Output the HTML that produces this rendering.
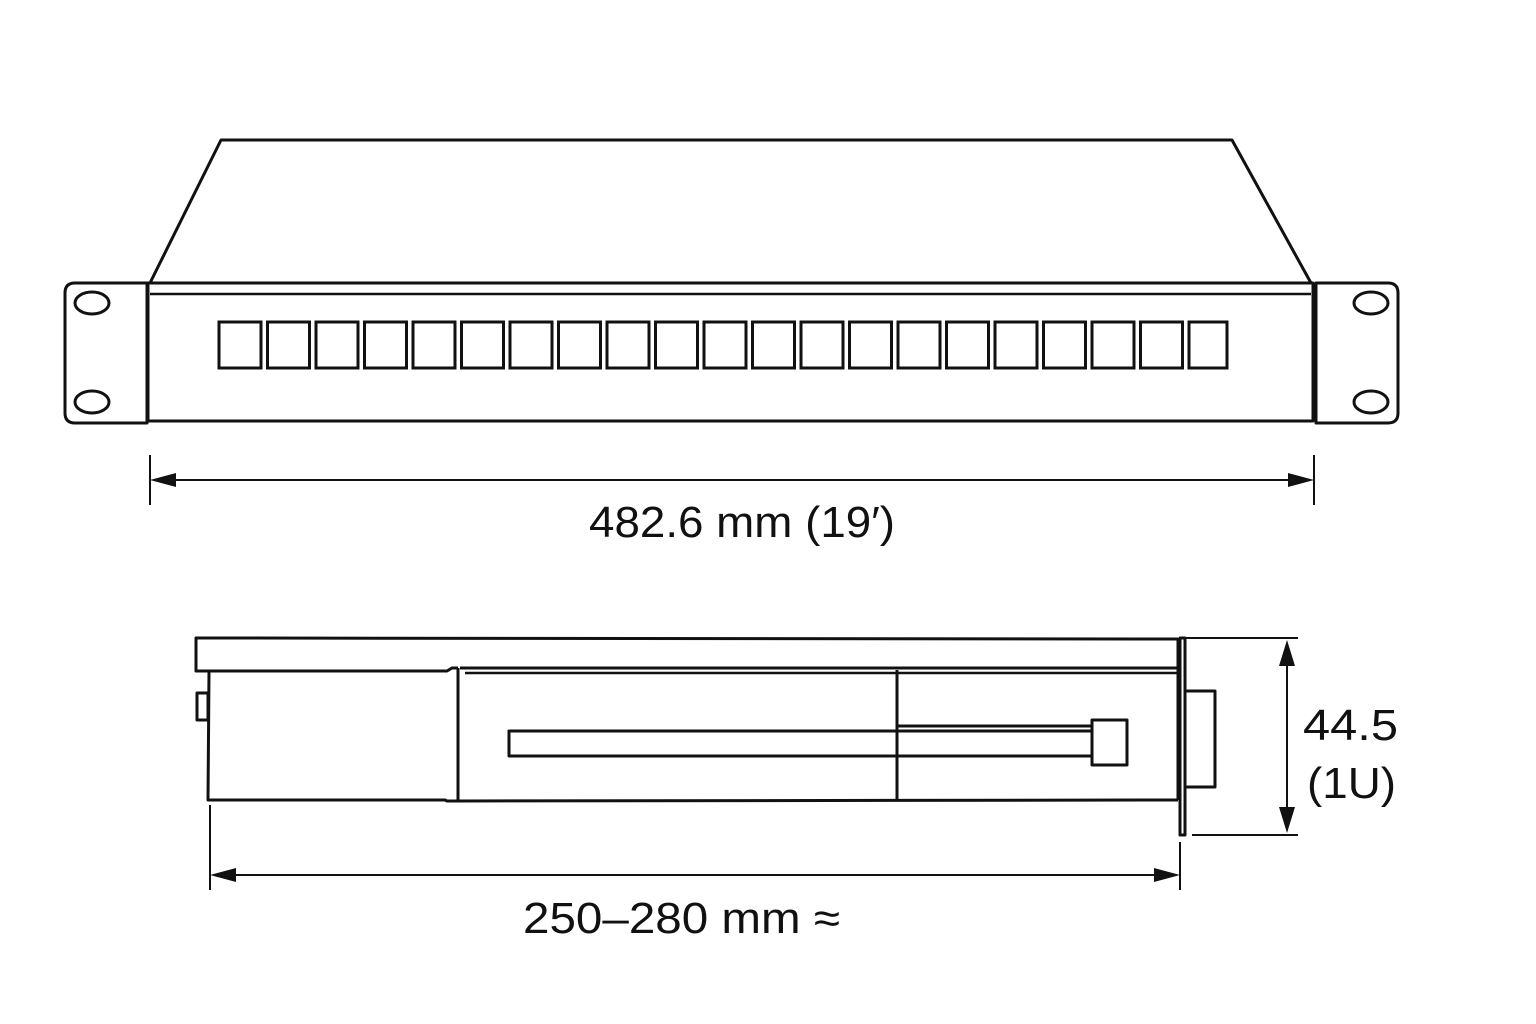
<!DOCTYPE html>
<html><head><meta charset="utf-8"><style>html,body{margin:0;padding:0;background:#fff}svg{display:block}</style></head>
<body>
<svg width="1536" height="1024" viewBox="0 0 1536 1024" xmlns="http://www.w3.org/2000/svg" font-family="Liberation Sans, Arial, sans-serif">
<g fill="none" stroke="#111" stroke-width="3" stroke-linejoin="round">
  <!-- top trapezoid -->
  <polyline points="150,283 221,140 1232,140 1311,283"/>
  <!-- front panel -->
  <rect x="148" y="283" width="1165" height="138"/>
  <line x1="150" y1="294" x2="1311" y2="294" stroke-width="2.5"/>
  <!-- ears -->
  <path d="M147,283 L75,283 Q65,283 65,293 L65,413 Q65,423 75,423 L147,423 Z"/>
  <path d="M1316,283 L1388,283 Q1398,283 1398,293 L1398,413 Q1398,423 1388,423 L1316,423 Z"/>
  <ellipse cx="92" cy="303" rx="17" ry="11"/>
  <ellipse cx="92" cy="402" rx="17" ry="11"/>
  <ellipse cx="1371" cy="303" rx="17" ry="11"/>
  <ellipse cx="1371" cy="402" rx="17" ry="11"/>
</g>
<g fill="none" stroke="#111" stroke-width="3">
  <rect x="219" y="322" width="42" height="46"/>
  <rect x="267.5" y="322" width="42" height="46"/>
  <rect x="316" y="322" width="42" height="46"/>
  <rect x="364.5" y="322" width="42" height="46"/>
  <rect x="413" y="322" width="42" height="46"/>
  <rect x="461.5" y="322" width="42" height="46"/>
  <rect x="510" y="322" width="42" height="46"/>
  <rect x="558.5" y="322" width="42" height="46"/>
  <rect x="607" y="322" width="42" height="46"/>
  <rect x="655.5" y="322" width="42" height="46"/>
  <rect x="704" y="322" width="42" height="46"/>
  <rect x="752.5" y="322" width="42" height="46"/>
  <rect x="801" y="322" width="42" height="46"/>
  <rect x="849.5" y="322" width="42" height="46"/>
  <rect x="898" y="322" width="42" height="46"/>
  <rect x="946.5" y="322" width="42" height="46"/>
  <rect x="995" y="322" width="42" height="46"/>
  <rect x="1043.5" y="322" width="42" height="46"/>
  <rect x="1092" y="322" width="42" height="46"/>
  <rect x="1140.5" y="322" width="42" height="46"/>
  <rect x="1189" y="322" width="38" height="46"/>
</g>
<!-- width dimension -->
<g stroke="#111" stroke-width="2" fill="#111">
  <line x1="150" y1="455" x2="150" y2="505"/>
  <line x1="1314" y1="455" x2="1314" y2="505"/>
  <line x1="170" y1="480" x2="1294" y2="480"/>
  <polygon points="150,480 176,473 176,487" stroke="none"/>
  <polygon points="1314,480 1288,473 1288,487" stroke="none"/>
</g>
<text x="589" y="537" font-size="44" fill="#111" textLength="306" lengthAdjust="spacingAndGlyphs">482.6 mm (19′)</text>

<!-- side view -->
<g fill="none" stroke="#111" stroke-width="3" stroke-linejoin="round">
  <path d="M1178,639 L196,638 L196,671 L447,671 L452,668 L458,668"/>
  <path d="M460,668 L1178,668"/>
  <line x1="465" y1="673" x2="1178" y2="673" stroke-width="2.5"/>
  <line x1="1178" y1="638" x2="1178" y2="800"/>
  <path d="M209,672 L208,800 L445,800 L447,801 L458,801 L1178,800"/>
  <line x1="458" y1="668" x2="458" y2="801"/>
  <rect x="197" y="693" width="11" height="27"/>
  <line x1="897" y1="670" x2="897" y2="800"/>
  <line x1="897" y1="726" x2="1092" y2="726"/>
  <rect x="509" y="731" width="583" height="25"/>
  <rect x="1092" y="720" width="35" height="45"/>
  <rect x="1180" y="638" width="5" height="197"/>
  <path d="M1185,691 L1215,691 L1215,787 L1185,787"/>
</g>
<!-- height dimension -->
<g stroke="#111" stroke-width="2" fill="#111">
  <line x1="1185" y1="638" x2="1298" y2="638"/>
  <line x1="1192" y1="835" x2="1298" y2="835"/>
  <line x1="1287" y1="660" x2="1287" y2="812"/>
  <polygon points="1287,640 1279,666 1295,666" stroke="none"/>
  <polygon points="1287,833 1279,807 1295,807" stroke="none"/>
</g>
<text x="1303" y="740" font-size="44" fill="#111" textLength="95" lengthAdjust="spacingAndGlyphs">44.5</text>
<text x="1307" y="798" font-size="44" fill="#111" textLength="89" lengthAdjust="spacingAndGlyphs">(1U)</text>
<!-- depth dimension -->
<g stroke="#111" stroke-width="2" fill="#111">
  <line x1="210" y1="805" x2="210" y2="890"/>
  <line x1="1180" y1="842" x2="1180" y2="890"/>
  <line x1="230" y1="875" x2="1160" y2="875"/>
  <polygon points="210,875 236,868 236,882" stroke="none"/>
  <polygon points="1180,875 1154,868 1154,882" stroke="none"/>
</g>
<text x="523" y="933" font-size="44" fill="#111" textLength="317" lengthAdjust="spacingAndGlyphs">250–280 mm ≈</text>
</svg>
</body></html>
